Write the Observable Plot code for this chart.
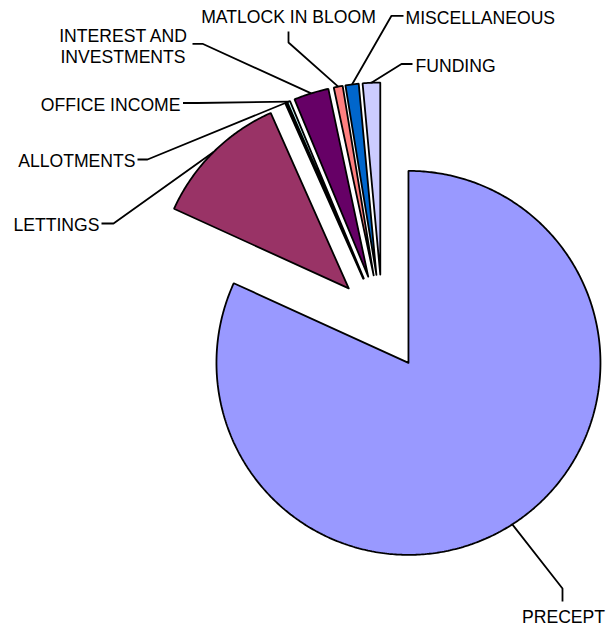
<!DOCTYPE html>
<html>
<head>
<meta charset="utf-8">
<script src="https://cdn.jsdelivr.net/npm/d3@7"></script>
<script src="https://cdn.jsdelivr.net/npm/@observablehq/plot@0.6"></script>
<style>
  html, body { margin: 0; padding: 0; background: #fff; }
  #chart svg { display: block; }
</style>
</head>
<body>
<div id="chart"></div>
<script>
// ---- data ----
const labels = ["PRECEPT", "LETTINGS", "ALLOTMENTS", "OFFICE INCOME", "INTEREST AND\nINVESTMENTS", "MATLOCK IN BLOOM", "MISCELLANEOUS", "FUNDING"];
const values = [81.8, 11.53, 0.14, 0.25, 2.94, 0.75, 1.11, 1.47];
const colors = ["#9999FF", "#993366", "#FFFFCC", "#CCFFFF", "#660066", "#FF8080", "#0066CC", "#CCCCFF"];

// ---- layout (pixels) ----
const W = 606, H = 631;
const pieLayout = {cx: 382, cy: 322, r: 192, explode: 48};
const labelText = [[563, 616], [99, 223.6], [135, 159.5], [180, 104], [122.5, 45.6], [288, 15.3], [405, 17], [415, 64.5]];
const labelAnchor = ["middle", "end", "end", "end", "middle", "middle", "start", "start"];
const leaderBend = [[562, 588], [113, 223], [147, 159], [197, 102.5], [202, 43.3], [288, 42], [391, 15.3], [401, 63.5]];
const leaderEnd = [[562, 601], [101, 223], [137, 159], [182.5, 102.5], [192, 43.3], [288, 31], [403, 15.3], [412, 63.5]];

const table = labels.map((label, i) => ({label, value: values[i]}));
const arcs = d3.pie().sort(null).value(d => d.value).startAngle(0).endAngle(2 * Math.PI)(table);

const {cx, cy, r, explode} = pieLayout;
const px = (a, rad, ox) => ox + rad * Math.sin(a);
const py = (a, rad, oy) => oy - rad * Math.cos(a);

// slice polygons
const slicePts = [];
arcs.forEach(a => {
  const mid = (a.startAngle + a.endAngle) / 2;
  const tx = px(mid, explode, cx), ty = py(mid, explode, cy);
  const n = Math.max(2, Math.ceil((a.endAngle - a.startAngle) / 0.01));
  slicePts.push({label: a.data.label, x: tx, y: ty});
  for (let k = 0; k <= n; k++) {
    const ang = a.startAngle + (a.endAngle - a.startAngle) * k / n;
    slicePts.push({label: a.data.label, x: px(ang, r, tx), y: py(ang, r, ty)});
  }
  slicePts.push({label: a.data.label, x: tx, y: ty});
});

// leader lines
const leaderPts = [];
arcs.forEach((a, i) => {
  const mid = (a.startAngle + a.endAngle) / 2;
  leaderPts.push({label: a.data.label, x: px(mid, r + explode, cx), y: py(mid, r + explode, cy)});
  leaderPts.push({label: a.data.label, x: leaderBend[i][0], y: leaderBend[i][1]});
  leaderPts.push({label: a.data.label, x: leaderEnd[i][0], y: leaderEnd[i][1]});
});

const textRows = labels.map((label, i) => ({label, x: labelText[i][0], y: labelText[i][1], anchor: labelAnchor[i]}));
const font = {fontSize: 17.6, fontFamily: "Liberation Sans, Arial, sans-serif", fill: "#000", lineHeight: 1.2};

const chart = Plot.plot({
  width: W,
  height: H,
  margin: 0,
  x: {domain: [0, W], range: [0, W], axis: null},
  y: {domain: [0, H], range: [0, H], axis: null},
  color: {domain: labels, range: colors},
  marks: [
    Plot.line(slicePts, {x: "x", y: "y", z: "label", fill: "label", stroke: "#000", strokeWidth: 1.8, strokeLinejoin: "miter", curve: "linear"}),
    Plot.line(leaderPts, {x: "x", y: "y", z: "label", stroke: "#000", strokeWidth: 1.8, strokeLinejoin: "miter", strokeLinecap: "butt"}),
    ...["start", "middle", "end"].map(anc =>
      Plot.text(textRows.filter(d => d.anchor === anc), {x: "x", y: "y", text: "label", textAnchor: anc, ...font}))
  ]
});
document.getElementById("chart").appendChild(chart);
</script>
</body>
</html>
